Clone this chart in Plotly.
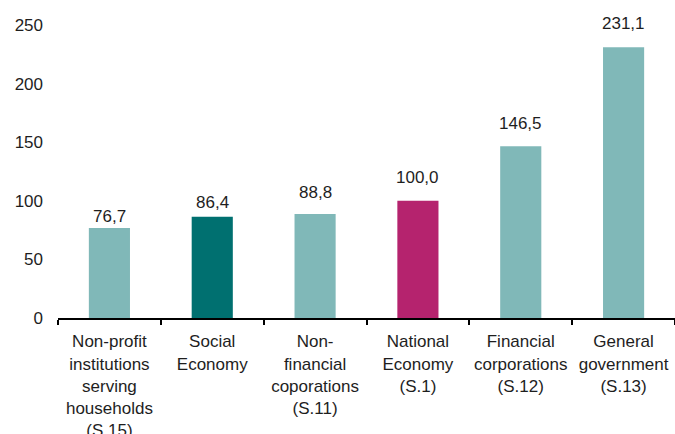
import plotly.graph_objects as go

# Sector labels and index values (National Economy = 100)
categories = [
    "Non-profit<br>institutions<br>serving<br>households<br>(S.15)",
    "Social<br>Economy",
    "Non-<br>financial<br>coporations<br>(S.11)",
    "National<br>Economy<br>(S.1)",
    "Financial<br>corporations<br>(S.12)",
    "General<br>government<br>(S.13)",
]
values = [76.7, 86.4, 88.8, 100.0, 146.5, 231.1]
bar_colors = ["#80b8b8", "#007070", "#80b8b8", "#b5236e", "#80b8b8", "#80b8b8"]
y_ticks = [0, 50, 100, 150, 200, 250]

# Vertical offset (px) of each value label above its bar
label_lift = [0, 3, 10, 12, 11, 12]

FONT = "Liberation Sans, Arial, sans-serif"
TEXT_COLOR = "#1e1e1e"

fig = go.Figure(
    go.Bar(
        x=categories,
        y=values,
        marker=dict(color=bar_colors, line=dict(width=0)),
        cliponaxis=False,
    )
)

# Value labels above the bars, using comma as decimal separator
for cat, val, lift in zip(categories, values, label_lift):
    fig.add_annotation(
        x=cat,
        y=val,
        text=f"{val:.1f}".replace(".", ","),
        showarrow=False,
        yanchor="bottom",
        yshift=lift,
        font=dict(family=FONT, size=17, color=TEXT_COLOR),
    )

fig.update_layout(
    width=675,
    height=434,
    margin=dict(l=58, r=0, t=25, b=116),
    paper_bgcolor="white",
    plot_bgcolor="white",
    bargap=0.6,
    showlegend=False,
    font=dict(family=FONT, size=17, color=TEXT_COLOR),
)

fig.update_xaxes(
    type="category",
    automargin=False,
    showline=True,
    linecolor="black",
    linewidth=2,
    ticks="outside",
    tickson="boundaries",
    ticklen=5,
    tickwidth=2,
    tickcolor="black",
    showgrid=False,
    tickangle=0,
    ticklabelstandoff=7,
    tickfont=dict(family=FONT, size=17, color=TEXT_COLOR),
)

fig.update_yaxes(
    range=[0, 250],
    tickvals=y_ticks,
    automargin=False,
    showgrid=False,
    zeroline=False,
    showline=False,
    ticks="",
    ticklabelstandoff=14,
    tickfont=dict(family=FONT, size=17, color=TEXT_COLOR),
)

fig.write_html("out.html")
